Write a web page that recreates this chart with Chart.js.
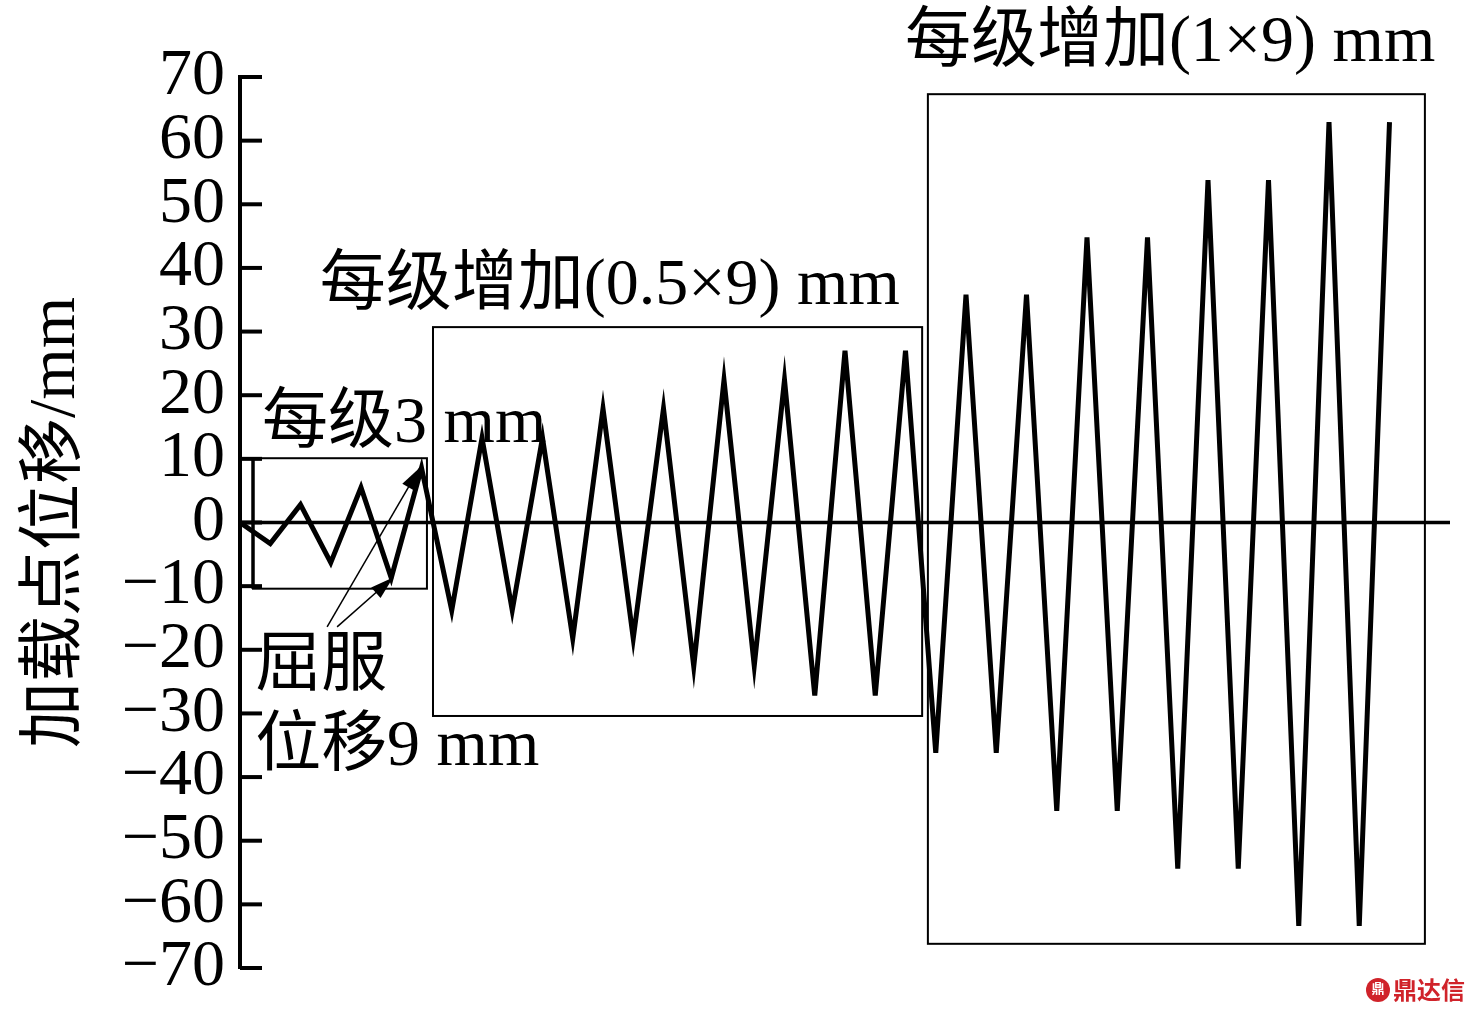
<!DOCTYPE html>
<html>
<head>
<meta charset="utf-8">
<script src="https://cdn.jsdelivr.net/npm/chart.js@4.4.0/dist/chart.umd.min.js"></script>
<style>
  body { margin: 0; background: #fff; }
  canvas { display: block; }
</style>
</head>
<body>
<canvas id="myChart" width="1467" height="1014"></canvas>
<script>
// loading displacement at each reversal point (mm), step index = position in array
const displacement = [0, -3.3, 2.8, -6.3, 5.5, -8.7, 8.6,
  -13.8, 13.3, -13.8, 13.3, -18.2, 17.9, -18.2, 17.9,
  -22.6, 22.4, -22.5, 22.4, -27.2, 27.0, -27.2, 27.0,
  -36.2, 35.8, -36.2, 35.8, -45.3, 44.8, -45.3, 44.8,
  -54.4, 53.8, -54.4, 53.8, -63.4, 62.9, -63.4, 62.9];
const xRange = [0, 40];
const yTicks = [-70, -60, -50, -40, -30, -20, -10, 0, 10, 20, 30, 40, 50, 60, 70];

// boxes round the loading stages: [xFrom, xTo, yTop, yBottom] in data units
const stageBoxes = [[0.43, 6.18, 10.1, -10.4], [6.38, 22.55, 30.7, -30.4], [22.74, 39.17, 67.3, -66.2]];
const stageLabels = ['每级增加(1×9) mm', '每级增加(0.5×9) mm', '每级3 mm', '屈服', '位移9 mm'];
const labelAnchors = [[21.98, 75.2], [2.64, 37.0], [0.73, 15.4], [0.5, -22.8], [0.5, -35.4]];
// arrows from the 屈服 note to the yield points: [x0, y0, x1, y1]
const yieldArrows = [[2.88, -16.4, 5.95, 8.65], [3.21, -16.4, 5.06, -8.65]];

const FONT = "'Liberation Serif', 'Noto Sans CJK SC', serif";

const extras = {
  id: 'extras',
  beforeDatasetsDraw(chart) {
    const ctx = chart.ctx;
    const xs = chart.scales.x, ys = chart.scales.y;
    ctx.save();
    ctx.strokeStyle = '#000';
    ctx.lineWidth = 2;
    stageBoxes.forEach((b, i) => {
      const x0 = xs.getPixelForValue(b[0]), x1 = xs.getPixelForValue(b[1]);
      const y0 = ys.getPixelForValue(b[2]), y1 = ys.getPixelForValue(b[3]);
      ctx.strokeRect(x0, y0, x1 - x0, y1 - y0);
      if (i === 0) {
        // first box has a heavier left side
        ctx.save();
        ctx.lineWidth = 3.5;
        ctx.beginPath();
        ctx.moveTo(x0, y0);
        ctx.lineTo(x0, y1);
        ctx.stroke();
        ctx.restore();
      }
    });
    ctx.restore();
  },
  afterDraw(chart) {
    const ctx = chart.ctx;
    const xs = chart.scales.x, ys = chart.scales.y;
    const area = chart.chartArea;
    ctx.save();
    // inward tick marks
    ctx.strokeStyle = '#000';
    ctx.lineWidth = 4;
    ys.ticks.forEach((t) => {
      const py = ys.getPixelForValue(t.value);
      ctx.beginPath();
      ctx.moveTo(area.left, py);
      ctx.lineTo(area.left + 22, py);
      ctx.stroke();
    });
    // stage notes
    ctx.fillStyle = '#000';
    ctx.font = '66px ' + FONT;
    ctx.textBaseline = 'middle';
    ctx.textAlign = 'left';
    stageLabels.forEach((s, i) => {
      ctx.fillText(s, xs.getPixelForValue(labelAnchors[i][0]), ys.getPixelForValue(labelAnchors[i][1]));
    });
    // arrows
    ctx.lineWidth = 1.5;
    yieldArrows.forEach((a) => {
      const x0 = xs.getPixelForValue(a[0]), y0 = ys.getPixelForValue(a[1]);
      const x1 = xs.getPixelForValue(a[2]), y1 = ys.getPixelForValue(a[3]);
      const ang = Math.atan2(y1 - y0, x1 - x0);
      ctx.beginPath();
      ctx.moveTo(x0, y0);
      ctx.lineTo(x1, y1);
      ctx.stroke();
      ctx.beginPath();
      ctx.moveTo(x1, y1);
      ctx.lineTo(x1 - 24 * Math.cos(ang - 0.3), y1 - 24 * Math.sin(ang - 0.3));
      ctx.lineTo(x1 - 24 * Math.cos(ang + 0.3), y1 - 24 * Math.sin(ang + 0.3));
      ctx.closePath();
      ctx.fill();
    });
    // watermark
    ctx.fillStyle = '#d0232a';
    ctx.beginPath();
    ctx.arc(1378, 990, 12, 0, Math.PI * 2);
    ctx.fill();
    ctx.fillStyle = '#fff';
    ctx.font = 'bold 13px ' + FONT;
    ctx.textAlign = 'center';
    ctx.fillText('鼎', 1378, 990);
    ctx.fillStyle = '#d0232a';
    ctx.font = 'bold 24px "Noto Sans CJK SC"';
    ctx.textAlign = 'left';
    ctx.fillText('鼎达信', 1393, 990);
    ctx.restore();
  }
};

const ctx = document.getElementById('myChart').getContext('2d');
new Chart(ctx, {
  type: 'line',
  data: {
    datasets: [{
      data: displacement.map((v, i) => ({ x: i, y: v })),
      borderColor: '#000',
      borderWidth: 5,
      pointRadius: 0,
      tension: 0,
      borderJoinStyle: 'miter'
    }, {
      data: xRange.map((x) => ({ x: x, y: 0 })),
      borderColor: '#000',
      borderWidth: 3.5,
      pointRadius: 0
    }]
  },
  options: {
    responsive: false,
    animation: false,
    layout: { padding: { top: 77, bottom: 46, right: 17, left: 0 } },
    plugins: { legend: { display: false }, tooltip: { enabled: false } },
    scales: {
      x: {
        type: 'linear',
        min: xRange[0],
        max: xRange[1],
        display: false
      },
      y: {
        min: yTicks[0],
        max: yTicks[yTicks.length - 1],
        afterFit: (scale) => {
          scale.width = 240;
          scale.paddingTop = 0;
          scale.paddingBottom = 0;
        },
        afterBuildTicks: (scale) => { scale.ticks = yTicks.map((v) => ({ value: v })); },
        grid: { display: false, drawTicks: false },
        border: { display: true, color: '#000', width: 4 },
        ticks: {
          color: '#000',
          padding: 15,
          autoSkip: false,
          font: { family: FONT, size: 66, lineHeight: 1 },
          callback: (v) => String(v).replace('-', '−')
        },
        title: {
          display: true,
          text: '加载点位移/mm',
          color: '#000',
          padding: { top: 17, bottom: 0 },
          font: { family: FONT, size: 66 }
        }
      }
    }
  },
  plugins: [extras]
});
</script>
</body>
</html>
